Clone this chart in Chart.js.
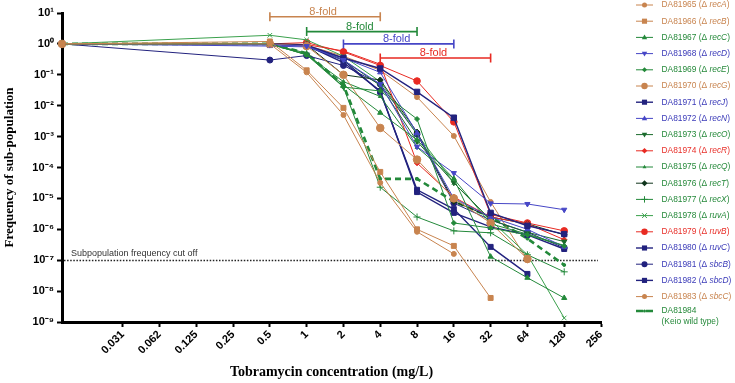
<!DOCTYPE html>
<html><head><meta charset="utf-8">
<style>html,body{margin:0;padding:0;background:#fff;overflow:hidden}canvas{display:block}</style>
<script src="https://cdn.jsdelivr.net/npm/chart.js@4.4.1/dist/chart.umd.min.js"></script>
</head><body>
<canvas id="c" width="735" height="383"></canvas>
<script>
// ---------- DATA ----------
const concentrations = [0, 0.5, 1, 2, 4, 8, 16, 32, 64, 128];
const xTickPowers = [-5, -4, -3, -2, -1, 0, 1, 2, 3, 4, 5, 6, 7, 8];
const xTickLabels = ['0.031','0.062','0.125','0.25','0.5','1','2','4','8','16','32','64','128','256'];
const yTickExponents = [1, 0, -1, -2, -3, -4, -5, -6, -7, -8, -9];

const strainIds = ['DA81965','DA81966','DA81967','DA81968','DA81969','DA81970','DA81971','DA81972','DA81973','DA81974',
                   'DA81975','DA81976','DA81977','DA81978','DA81979','DA81980','DA81981','DA81982','DA81983','DA81984'];
const geneNames = ['recA','recB','recC','recD','recE','recG','recJ','recN','recO','recR',
                   'recQ','recT','recX','ruvA','ruvB','ruvC','sbcB','sbcD','sbcC',''];

const recA = [1, 1.0, 0.12, 0.005, 3.2e-5, 8.3e-7, 1.6e-7, null, null, null];
const recB = [1, 1.2, 0.14, 0.0085, 7.2e-5, 1.0e-6, 2.9e-7, 6e-9, null, null];
const recC = [1, 1.0, 0.45, 0.047, 0.0059, 7.8e-4, 4.3e-5, 1.3e-7, 2.7e-8, 6e-9];
const recD = [1, 0.95, 0.85, 0.3, 0.05, 4.7e-4, 6.6e-5, 6.9e-6, 6.6e-6, 4.3e-6];
const recE = [1, 1.0, 0.44, 0.04, 0.03, 0.0037, 1.6e-6, 1.1e-6, 6.6e-7, 2.9e-7];
const recG = [1, 1.0, 0.85, 0.1, 0.0019, 1.8e-4, 1.0e-5, 1.6e-6, 1.1e-7, null];
const recJ = [1, 1.0, 0.9, 0.35, 0.16, 0.028, 0.0041, 3.4e-6, 1.3e-6, 7e-7];
const recN = [1, 0.85, 0.8, 0.35, 0.12, 0.0013, 1e-5, 2.5e-6, 1e-6, 2.7e-7];
const recO = [1, 1.0, 0.9, 0.3, 0.045, 7e-4, 3.2e-5, 2e-6, 8e-7, 4e-7];
const recR = [1, 1.0, 0.95, 0.59, 0.22, 1.4e-4, 1.1e-5, 2.5e-6, 1.5e-6, 4.6e-7];
const recQ = [1, 1.0, 0.45, 0.06, 0.02, 4.5e-4, 4.3e-5, 1.5e-6, 7e-7, 3e-7];
const recT = [1, 1.0, 0.95, 0.1, 0.068, 0.0014, 8e-6, 2.5e-6, 1.5e-6, 6.6e-7];
const recX = [1, 1.0, 0.5, 0.04, 2.3e-5, 2.5e-6, 8.9e-7, 7.7e-7, 1.5e-7, 4.2e-8];
const ruvA = [1, 1.9, 1.35, 0.4, 0.06, 0.0012, 3.2e-5, 2e-6, 1.5e-7, 1.35e-9];
const ruvB = [1, 1.0, 1.1, 0.55, 0.2, 0.063, 0.003, 3e-6, 1.6e-6, 8.9e-7];
const ruvC = [1, 0.95, 0.9, 0.25, 0.03, 1.6e-5, 3.4e-6, 1.2e-6, 6.6e-7, 2.3e-7];
const sbcB = [1, 0.3, 0.42, 0.2, 0.05, 0.0012, 7e-6, 2e-6, 8e-7, 2.5e-7];
const sbcD = [1, 1.0, 0.85, 0.3, 0.028, 1.9e-5, 4.5e-6, 2.7e-7, 3.6e-8, null];
const sbcC = [1, 1.0, 0.9, 0.4, 0.14, 0.019, 0.00105, 7.7e-6, 1e-7, null];
const wildType = [1, 1.0, 0.5, 0.047, 4.3e-5, 4.3e-5, 8e-6, 2.5e-6, 5e-7, 7e-8];

const cutOffValue = 1e-7;
const cutOffLabel = 'Subpopulation frequency cut off';
const foldFrom = [0.5, 1, 2, 4];
const foldTo = [4, 8, 16, 32];
const foldLevel = [7.6, 2.5, 1.0, 0.35];
const foldLabel = '8-fold';

// ---------- STYLES ----------
const BROWN = '#C8844F', GREEN = '#23893A', LGREEN = '#3AA04C', DGREEN = '#1A6A2C', BLACKG = '#10351C',
      BLUE = '#4646C6', NAVY = '#22227E', RED = '#E82A22';
const TXT_BROWN = '#C8844F', TXT_GREEN = '#25893A', TXT_BLUE = '#3A3AB8', TXT_RED = '#E8302A';
const foldColors = [BROWN, GREEN, BLUE, RED];

const seriesValues = [recA, recB, recC, recD, recE, recG, recJ, recN, recO, recR, recQ, recT, recX, ruvA, ruvB, ruvC, sbcB, sbcD, sbcC, wildType];
const seriesStyles = [
  {c: BROWN, t: TXT_BROWN, p: 'circle', r: 2.5},
  {c: BROWN, t: TXT_BROWN, p: 'rect', r: 3.5},
  {c: GREEN, t: TXT_GREEN, p: 'triangle', r: 3},
  {c: BLUE, t: TXT_BLUE, p: 'triangleDown', r: 3},
  {c: GREEN, t: TXT_GREEN, p: 'rectRot', r: 2.5},
  {c: BROWN, t: TXT_BROWN, p: 'circle', r: 3.8},
  {c: NAVY, t: TXT_BLUE, p: 'rect', r: 3.8, w: 1.4},
  {c: BLUE, t: TXT_BLUE, p: 'triangle', r: 3},
  {c: DGREEN, t: TXT_GREEN, p: 'triangleDown', r: 3},
  {c: RED, t: TXT_RED, p: 'rectRot', r: 2.8},
  {c: GREEN, t: TXT_GREEN, p: 'triangle', r: 2.2},
  {c: BLACKG, t: TXT_GREEN, p: 'rectRot', r: 3},
  {c: GREEN, t: TXT_GREEN, p: 'cross', r: 3.5},
  {c: LGREEN, t: TXT_GREEN, p: 'crossRot', r: 3.2},
  {c: RED, t: TXT_RED, p: 'circle', r: 3.3},
  {c: NAVY, t: TXT_BLUE, p: 'rect', r: 3.5, w: 1.4},
  {c: NAVY, t: TXT_BLUE, p: 'circle', r: 3},
  {c: NAVY, t: TXT_BLUE, p: 'rect', r: 3.5, w: 1.4},
  {c: BROWN, t: TXT_BROWN, p: 'circle', r: 2.5},
  {c: GREEN, t: TXT_GREEN, p: 'circle', r: 1.5, w: 2.6, dash: [6, 4]}
];

const X_MIN = -6.65, X_MAX = 8;
const toX = c => c === 0 ? X_MIN : Math.log2(c);
const SUP = {'-':'\u207B','0':'\u2070','1':'\u00B9','2':'\u00B2','3':'\u00B3','4':'\u2074','5':'\u2075','6':'\u2076','7':'\u2077','8':'\u2078','9':'\u2079'};
const supStr = n => String(n).split('').map(ch => SUP[ch]).join('');

const datasets = seriesValues.map((vals, i) => {
  const s = seriesStyles[i];
  const isTri = s.p === 'triangleDown';
  return {
    label: strainIds[i],
    data: concentrations.map((c, k) => vals[k] == null ? null : {x: toX(c), y: vals[k]}).filter(d => d),
    borderColor: s.c, backgroundColor: s.c,
    borderWidth: s.w || 1, borderDash: s.dash || [],
    pointStyle: isTri ? 'triangle' : s.p, pointRotation: isTri ? 180 : 0,
    pointRadius: s.r, pointBorderWidth: 1, pointBackgroundColor: s.c, pointBorderColor: s.c,
    tension: 0, clip: false, spanGaps: false
  };
});

// marker drawing for legend
function drawMarker(ctx, style, r, x, y, color) {
  ctx.save();
  ctx.fillStyle = color; ctx.strokeStyle = color; ctx.lineWidth = 1; ctx.setLineDash([]);
  ctx.beginPath();
  if (style === 'circle') { ctx.arc(x, y, r, 0, Math.PI * 2); ctx.fill(); }
  else if (style === 'rect') { ctx.rect(x - r * 0.8, y - r * 0.8, r * 1.6, r * 1.6); ctx.fill(); }
  else if (style === 'rectRot') { ctx.moveTo(x, y - r); ctx.lineTo(x + r, y); ctx.lineTo(x, y + r); ctx.lineTo(x - r, y); ctx.closePath(); ctx.fill(); }
  else if (style === 'triangle') { ctx.moveTo(x, y - r); ctx.lineTo(x + r * 0.9, y + r * 0.6); ctx.lineTo(x - r * 0.9, y + r * 0.6); ctx.closePath(); ctx.fill(); }
  else if (style === 'triangleDown') { ctx.moveTo(x, y + r); ctx.lineTo(x + r * 0.9, y - r * 0.6); ctx.lineTo(x - r * 0.9, y - r * 0.6); ctx.closePath(); ctx.fill(); }
  else if (style === 'cross') { ctx.moveTo(x, y - r); ctx.lineTo(x, y + r); ctx.moveTo(x - r, y); ctx.lineTo(x + r, y); ctx.stroke(); }
  else if (style === 'crossRot') { const d = r * 0.75; ctx.moveTo(x - d, y - d); ctx.lineTo(x + d, y + d); ctx.moveTo(x + d, y - d); ctx.lineTo(x - d, y + d); ctx.stroke(); }
  ctx.restore();
}

const annotationPlugin = {
  id: 'annotations',
  beforeDatasetsDraw(chart) {
    const {ctx, scales: {x, y}} = chart;
    const yy = Math.round(y.getPixelForValue(cutOffValue)) + 0.5;
    ctx.save();
    ctx.strokeStyle = '#222'; ctx.lineWidth = 1.4; ctx.setLineDash([1.5, 1.6]);
    ctx.beginPath(); ctx.moveTo(x.left + 2, yy); ctx.lineTo(x.right - 3, yy); ctx.stroke();
    ctx.setLineDash([]);
    ctx.fillStyle = '#333'; ctx.font = '9px "Liberation Sans", Arial, sans-serif';
    ctx.textAlign = 'left'; ctx.textBaseline = 'alphabetic';
    ctx.fillText(cutOffLabel, x.left + 9, yy - 5);
    ctx.restore();
  },
  afterDatasetsDraw(chart) {
    const {ctx, scales: {x, y}} = chart;
    ctx.save();
    foldFrom.forEach((f, i) => {
      const x1 = x.getPixelForValue(Math.log2(f)), x2 = x.getPixelForValue(Math.log2(foldTo[i]));
      const yy = y.getPixelForValue(foldLevel[i]);
      ctx.strokeStyle = foldColors[i]; ctx.lineWidth = 1.6;
      ctx.beginPath();
      ctx.moveTo(x1, yy); ctx.lineTo(x2, yy);
      ctx.moveTo(x1, yy - 4.5); ctx.lineTo(x1, yy + 4.5);
      ctx.moveTo(x2, yy - 4.5); ctx.lineTo(x2, yy + 4.5);
      ctx.stroke();
      ctx.fillStyle = foldColors[i]; ctx.font = '11px "Liberation Sans", Arial, sans-serif';
      ctx.textAlign = 'center'; ctx.textBaseline = 'alphabetic';
      ctx.fillText(foldLabel, (x1 + x2) / 2 - 2, yy - 2);
    });
    ctx.restore();
  },
  afterDraw(chart) {
    const ctx = chart.ctx;
    ctx.save();
    chart.data.datasets.forEach((ds, i) => {
      const s = seriesStyles[i];
      const isWT = i === seriesValues.length - 1;
      const yy = isWT ? 311 : 5 + 16.2 * i;
      ctx.strokeStyle = s.c; ctx.lineWidth = s.w || 1; ctx.setLineDash(isWT ? [7, 3] : []);
      ctx.beginPath(); ctx.moveTo(636, yy); ctx.lineTo(653, yy); ctx.stroke();
      ctx.setLineDash([]);
      drawMarker(ctx, s.p, isWT ? 1.5 : Math.min(s.r, 3.2), 644.5, yy, s.c);
      ctx.fillStyle = s.t; ctx.textAlign = 'left'; ctx.textBaseline = 'middle';
      const normal = '8.4px "Liberation Sans", Arial, sans-serif';
      const italic = 'italic 8.4px "Liberation Sans", Arial, sans-serif';
      let tx = 661.5;
      if (isWT) {
        ctx.font = normal;
        ctx.fillText(strainIds[i], tx, yy);
        ctx.fillText('(Keio wild type)', tx, yy + 11);
      } else {
        ctx.font = normal;
        const p1 = strainIds[i] + ' (\u0394 ';
        ctx.fillText(p1, tx, yy); tx += ctx.measureText(p1).width;
        ctx.font = italic;
        ctx.fillText(geneNames[i], tx, yy); tx += ctx.measureText(geneNames[i]).width;
        ctx.font = normal;
        ctx.fillText(')', tx, yy);
      }
    });
    ctx.restore();
  }
};

new Chart(document.getElementById('c'), {
  type: 'line',
  data: {datasets},
  options: {
    responsive: false, animation: false, parsing: true,
    layout: {padding: {left: 0, right: 134, top: 13, bottom: 0}},
    plugins: {legend: {display: false}, tooltip: {enabled: false}},
    scales: {
      x: {
        type: 'linear', min: X_MIN, max: X_MAX,
        afterBuildTicks: s => { s.ticks = xTickPowers.map(v => ({value: v})); },
        afterFit: s => { s.height = 61; },
        ticks: {
          autoSkip: false, maxRotation: 45, minRotation: 45, padding: 1, color: '#000',
          font: {family: '"Liberation Sans", Arial, sans-serif', size: 11, weight: 'bold'},
          callback: v => xTickLabels[xTickPowers.indexOf(v)]
        },
        grid: {drawOnChartArea: false, drawTicks: true, tickLength: 5, tickWidth: 2, tickColor: '#000', color: '#000'},
        border: {display: true, width: 3, color: '#000'},
        title: {display: true, text: 'Tobramycin concentration (mg/L)', color: '#000',
          font: {family: '"Liberation Serif", "Times New Roman", serif', size: 14, weight: 'bold'},
          padding: {top: 0, bottom: 2}}
      },
      y: {
        type: 'logarithmic', min: 1e-9, max: 10,
        afterBuildTicks: s => { s.ticks = yTickExponents.map(e => ({value: Math.pow(10, e)})); },
        afterFit: s => { s.width = 62; },
        ticks: {
          padding: 3, color: '#000',
          font: {family: '"Liberation Sans", Arial, sans-serif', size: 11, weight: 'bold'},
          callback: v => '10' + supStr(Math.round(Math.log10(v)))
        },
        grid: {drawOnChartArea: false, drawTicks: true, tickLength: 5, tickWidth: 2, tickColor: '#000', color: '#000'},
        border: {display: true, width: 3, color: '#000'},
        title: {display: true, text: 'Frequency of sub-population', color: '#000',
          font: {family: '"Liberation Serif", "Times New Roman", serif', size: 13, weight: 'bold'},
          padding: {top: 2, bottom: 0}}
      }
    }
  },
  plugins: [annotationPlugin]
});
</script>
</body></html>
